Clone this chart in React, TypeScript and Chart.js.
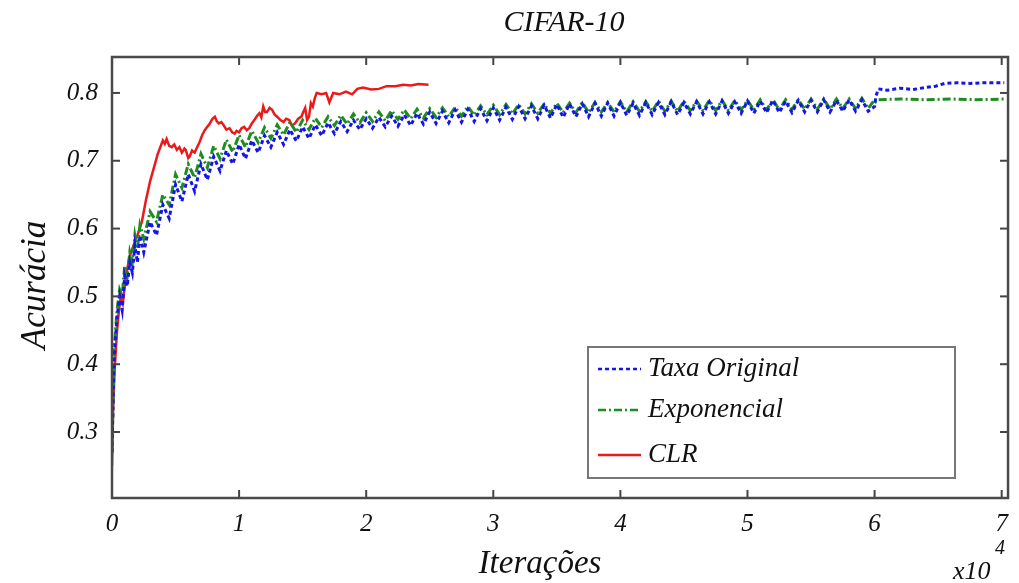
import React, { useEffect, useRef } from 'react';
import { Chart, registerables } from 'chart.js';

Chart.register(...registerables);

const TITLE = 'CIFAR-10';
const X_LABEL = 'Iterações';
const Y_LABEL = 'Acurácia';
const X_TICKS = [0, 1, 2, 3, 4, 5, 6, 7];
const Y_TICKS = [0.3, 0.4, 0.5, 0.6, 0.7, 0.8];
const SERIES_NAMES = ['Taxa Original', 'Exponencial', 'CLR'];

// shared x positions (x10^4 iterations)
const EARLY_X = [0, 0.01, 0.02, 0.04, 0.06, 0.08, 0.1, 0.12, 0.14, 0.16, 0.18, 0.2, 0.22];
const GRID_X = [
  0.25, 0.3, 0.35, 0.4, 0.45, 0.5, 0.55, 0.6, 0.65, 0.7,
  0.75, 0.8, 0.85, 0.9, 0.95, 1.0, 1.05, 1.1, 1.15, 1.2,
  1.25, 1.3, 1.35, 1.4, 1.45, 1.5, 1.55, 1.6, 1.65, 1.7,
  1.75, 1.8, 1.85, 1.9, 1.95, 2.0, 2.05, 2.1, 2.15, 2.2,
  2.25, 2.3, 2.35, 2.4, 2.45, 2.5, 2.55, 2.6, 2.65, 2.7,
  2.75, 2.8, 2.85, 2.9, 2.95, 3.0, 3.05, 3.1, 3.15, 3.2,
  3.25, 3.3, 3.35, 3.4, 3.45, 3.5, 3.55, 3.6, 3.65, 3.7,
  3.75, 3.8, 3.85, 3.9, 3.95, 4.0, 4.05, 4.1, 4.15, 4.2,
  4.25, 4.3, 4.35, 4.4, 4.45, 4.5, 4.55, 4.6, 4.65, 4.7,
  4.75, 4.8, 4.85, 4.9, 4.95, 5.0, 5.05, 5.1, 5.15, 5.2,
  5.25, 5.3, 5.35, 5.4, 5.45, 5.5, 5.55, 5.6, 5.65, 5.7,
  5.75, 5.8, 5.85, 5.9, 5.95, 6.0,
];

// Taxa Original
const TAXA_EARLY_Y = [0.27, 0.36, 0.42, 0.47, 0.5, 0.48, 0.53, 0.515, 0.55, 0.535, 0.575, 0.55, 0.59];
const TAXA_GRID_Y = [
  0.565, 0.61, 0.59, 0.635, 0.615, 0.665, 0.64, 0.68, 0.655, 0.695,
  0.672, 0.706, 0.685, 0.715, 0.695, 0.724, 0.703, 0.73, 0.712, 0.737,
  0.72, 0.742, 0.724, 0.746, 0.729, 0.75, 0.733, 0.753, 0.737, 0.756,
  0.74, 0.758, 0.743, 0.76, 0.746, 0.762, 0.748, 0.764, 0.75, 0.766,
  0.751, 0.768, 0.752, 0.77, 0.754, 0.772, 0.755, 0.773, 0.756, 0.775,
  0.757, 0.776, 0.758, 0.777, 0.759, 0.778, 0.76, 0.779, 0.761, 0.78,
  0.762, 0.781, 0.762, 0.782, 0.763, 0.783, 0.764, 0.784, 0.765, 0.784,
  0.765, 0.785, 0.766, 0.785, 0.766, 0.786, 0.767, 0.785, 0.767, 0.786,
  0.768, 0.786, 0.768, 0.787, 0.768, 0.786, 0.769, 0.787, 0.769, 0.787,
  0.769, 0.788, 0.77, 0.787, 0.77, 0.788, 0.77, 0.788, 0.771, 0.789,
  0.771, 0.788, 0.771, 0.789, 0.772, 0.789, 0.772, 0.79, 0.772, 0.789,
  0.773, 0.79, 0.773, 0.79, 0.773, 0.78,
];
const TAXA_LATE_X = [6.01, 6.03, 6.1, 6.2, 6.3, 6.4, 6.48, 6.55, 6.65, 6.75, 6.85, 6.95, 7.02];
const TAXA_LATE_Y = [0.795, 0.806, 0.804, 0.807, 0.805, 0.808, 0.81, 0.814, 0.815, 0.814, 0.815, 0.815, 0.815];

// Exponencial
const EXPO_EARLY_Y = [0.27, 0.36, 0.43, 0.48, 0.51, 0.5, 0.545, 0.53, 0.565, 0.55, 0.59, 0.57, 0.605];
const EXPO_GRID_Y = [
  0.585, 0.625, 0.61, 0.65, 0.635, 0.68, 0.66, 0.695, 0.675, 0.71,
  0.69, 0.722, 0.703, 0.731, 0.713, 0.738, 0.72, 0.744, 0.727, 0.749,
  0.733, 0.753, 0.738, 0.757, 0.742, 0.76, 0.746, 0.763, 0.749, 0.765,
  0.752, 0.767, 0.754, 0.769, 0.756, 0.771, 0.758, 0.772, 0.759, 0.774,
  0.761, 0.775, 0.762, 0.776, 0.763, 0.777, 0.764, 0.778, 0.765, 0.779,
  0.766, 0.78, 0.767, 0.781, 0.768, 0.782, 0.768, 0.783, 0.769, 0.783,
  0.769, 0.784, 0.77, 0.784, 0.77, 0.785, 0.771, 0.785, 0.771, 0.786,
  0.771, 0.786, 0.772, 0.786, 0.772, 0.787, 0.772, 0.787, 0.773, 0.787,
  0.773, 0.788, 0.773, 0.788, 0.773, 0.788, 0.774, 0.788, 0.774, 0.789,
  0.774, 0.789, 0.774, 0.789, 0.775, 0.789, 0.775, 0.79, 0.775, 0.79,
  0.775, 0.79, 0.776, 0.79, 0.776, 0.791, 0.776, 0.791, 0.776, 0.791,
  0.777, 0.791, 0.777, 0.792, 0.777, 0.79,
];
const EXPO_LATE_X = [6.01, 6.03, 6.2, 6.4, 6.6, 6.8, 7.02];
const EXPO_LATE_Y = [0.787, 0.79, 0.791, 0.79, 0.791, 0.79, 0.791];

// CLR
const CLR_X = [
  0, 0.008, 0.02, 0.04, 0.055, 0.07, 0.085, 0.11, 0.14, 0.17,
  0.2, 0.235, 0.265, 0.3, 0.33, 0.36,
  0.4, 0.415, 0.43, 0.45, 0.47, 0.49, 0.51, 0.53, 0.55, 0.57,
  0.58, 0.6, 0.61, 0.63, 0.65, 0.67, 0.69, 0.71, 0.73, 0.75,
  0.77, 0.79, 0.81, 0.825, 0.84, 0.86, 0.88, 0.9, 0.925, 0.945,
  0.965, 0.98, 1.0, 1.02, 1.04, 1.06, 1.08, 1.1, 1.12, 1.14,
  1.16, 1.175, 1.19, 1.205, 1.22, 1.24, 1.26, 1.28, 1.3, 1.325,
  1.35, 1.37, 1.395, 1.415, 1.44, 1.465, 1.49, 1.505, 1.52, 1.535,
  1.55, 1.565, 1.58, 1.595, 1.61,
  1.65, 1.685, 1.71, 1.74, 1.79, 1.84, 1.89, 1.93, 1.975, 2.04,
  2.1, 2.16, 2.23, 2.29, 2.35, 2.41, 2.49,
];
const CLR_Y = [
  0.25, 0.33, 0.39, 0.45, 0.48, 0.5, 0.49, 0.53, 0.56, 0.575,
  0.59, 0.61, 0.64, 0.67, 0.69, 0.71,
  0.73, 0.725, 0.732, 0.722, 0.72, 0.724, 0.716, 0.72, 0.712, 0.718,
  0.716, 0.704, 0.706, 0.715, 0.712, 0.72, 0.728, 0.738, 0.745, 0.75,
  0.755, 0.762, 0.765, 0.758, 0.755, 0.757, 0.752, 0.746, 0.748, 0.742,
  0.74, 0.744, 0.742, 0.748, 0.75, 0.745, 0.748, 0.755, 0.76, 0.766,
  0.77, 0.764, 0.78, 0.772, 0.772, 0.778, 0.775, 0.768, 0.765, 0.76,
  0.757, 0.762, 0.76, 0.752, 0.755, 0.762, 0.765, 0.772, 0.778, 0.76,
  0.765, 0.785, 0.78, 0.792, 0.8,
  0.798, 0.8, 0.786, 0.8, 0.798, 0.802, 0.798, 0.806, 0.808, 0.805,
  0.806, 0.81, 0.81, 0.812, 0.811, 0.813, 0.812,
];

const COLORS = ['rgb(20,20,235)', 'rgb(30,140,30)', 'rgb(235,25,25)'];
const DASHES = [[4, 3], [8, 3, 2, 3], []];
const FONT = "'Liberation Serif', 'Times New Roman', serif";

function pts(xs: number[], ys: number[]) {
  return xs.map((x, i) => ({ x, y: ys[i] }));
}

const decorPlugin = {
  id: 'decor',
  afterDraw(chart: any) {
    const { ctx, chartArea: a, scales } = chart;
    const xs = scales.x;
    const ys = scales.y;
    ctx.save();
    const line = (x1: number, y1: number, x2: number, y2: number) => {
      ctx.beginPath();
      ctx.moveTo(x1, y1);
      ctx.lineTo(x2, y2);
      ctx.stroke();
    };
    ctx.setLineDash([]);
    ctx.strokeStyle = '#444';
    ctx.lineWidth = 2;
    const tl = 8;
    xs.ticks.forEach((t: any) => {
      const px = xs.getPixelForValue(t.value);
      line(px, a.bottom, px, a.bottom - tl);
      line(px, a.top, px, a.top + tl);
    });
    ys.ticks.forEach((t: any) => {
      const py = ys.getPixelForValue(t.value);
      line(a.left, py, a.left + tl, py);
      line(a.right, py, a.right - tl, py);
    });
    ctx.strokeStyle = '#4a4a4a';
    ctx.lineWidth = 2.5;
    ctx.strokeRect(a.left, a.top, a.right - a.left, a.bottom - a.top);

    // legend
    const lx = 588, ly = 347, lw = 367, lh = 131;
    ctx.fillStyle = '#fff';
    ctx.fillRect(lx, ly, lw, lh);
    ctx.strokeStyle = '#777';
    ctx.lineWidth = 2;
    ctx.strokeRect(lx, ly, lw, lh);
    const rows = [369, 410, 455];
    ctx.font = `italic 27px ${FONT}`;
    ctx.textBaseline = 'middle';
    ctx.textAlign = 'left';
    chart.data.datasets.forEach((ds: any, i: number) => {
      ctx.strokeStyle = ds.borderColor;
      ctx.lineWidth = 2.5;
      ctx.setLineDash(DASHES[i]);
      line(598, rows[i], 641, rows[i]);
      ctx.setLineDash([]);
      ctx.fillStyle = '#111';
      ctx.fillText(ds.label, 648, rows[i]);
    });

    // texts
    ctx.fillStyle = '#111';
    ctx.textAlign = 'center';
    ctx.font = `italic 30px ${FONT}`;
    ctx.fillText(TITLE, 564, 23);
    ctx.font = `italic 33px ${FONT}`;
    ctx.fillText(X_LABEL, 540, 564);
    ctx.save();
    ctx.translate(36, 285);
    ctx.rotate(-Math.PI / 2);
    ctx.font = `italic 35px ${FONT}`;
    ctx.fillText(Y_LABEL, 0, 0);
    ctx.restore();
    ctx.textAlign = 'left';
    ctx.font = `italic 26px ${FONT}`;
    ctx.fillText('x10', 953, 572);
    ctx.font = `italic 20px ${FONT}`;
    ctx.fillText('4', 995, 549);
    ctx.restore();
  },
};

export default function App() {
  const ref = useRef<HTMLCanvasElement | null>(null);
  useEffect(() => {
    if (!ref.current) return;
    const chart = new Chart(ref.current, {
      type: 'line',
      data: {
        datasets: [
          {
            label: SERIES_NAMES[0],
            data: pts([...EARLY_X, ...GRID_X, ...TAXA_LATE_X], [...TAXA_EARLY_Y, ...TAXA_GRID_Y, ...TAXA_LATE_Y]),
            borderColor: COLORS[0],
            borderDash: DASHES[0],
            borderWidth: 3,
            pointRadius: 0,
            tension: 0,
          },
          {
            label: SERIES_NAMES[1],
            data: pts([...EARLY_X, ...GRID_X, ...EXPO_LATE_X], [...EXPO_EARLY_Y, ...EXPO_GRID_Y, ...EXPO_LATE_Y]),
            borderColor: COLORS[1],
            borderDash: DASHES[1],
            borderWidth: 3,
            pointRadius: 0,
            tension: 0,
          },
          {
            label: SERIES_NAMES[2],
            data: pts(CLR_X, CLR_Y),
            borderColor: COLORS[2],
            borderWidth: 2.5,
            pointRadius: 0,
            tension: 0,
          },
        ],
      },
      options: {
        animation: false,
        responsive: false,
        devicePixelRatio: 1,
        layout: { padding: { top: 57, right: 9, left: 0, bottom: 0 } },
        plugins: { legend: { display: false }, title: { display: false }, tooltip: { enabled: false } },
        scales: {
          x: {
            type: 'linear',
            min: 0,
            max: 7.05,
            grid: { display: false, drawTicks: false },
            border: { display: false },
            afterFit: (s: any) => { s.height = 85; },
            afterBuildTicks: (s: any) => { s.ticks = X_TICKS.map((v) => ({ value: v })); },
            ticks: {
              padding: 11,
              color: '#111',
              font: { family: FONT, style: 'italic', size: 25 },
              callback: (v: any) => String(v),
            },
          },
          y: {
            type: 'linear',
            min: 0.2027,
            max: 0.853,
            grid: { display: false, drawTicks: false },
            border: { display: false },
            afterFit: (s: any) => { s.width = 112; },
            afterBuildTicks: (s: any) => { s.ticks = Y_TICKS.map((v) => ({ value: v })); },
            ticks: {
              padding: 14,
              color: '#111',
              font: { family: FONT, style: 'italic', size: 25 },
              callback: (v: any) => Number(v).toFixed(1),
            },
          },
        },
      },
      plugins: [decorPlugin],
    });
    return () => chart.destroy();
  }, []);
  return (
    <div style={{ position: 'absolute', left: 0, top: 0, width: 1019, height: 583, background: '#fff' }}>
      <canvas ref={ref} width={1019} height={583} style={{ width: 1019, height: 583, display: 'block' }} />
    </div>
  );
}
